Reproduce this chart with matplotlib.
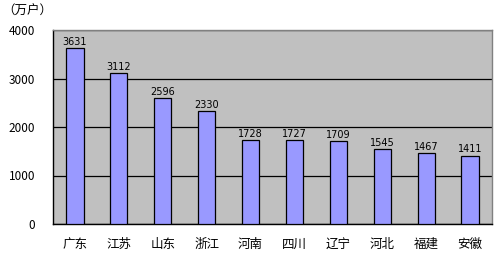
import matplotlib
matplotlib.use("Agg")
import matplotlib.pyplot as plt

plt.rcParams['font.family'] = ['Noto Sans CJK SC', 'DejaVu Sans']

provinces = ["广东", "江苏", "山东", "浙江", "河南", "四川", "辽宁", "河北", "福建", "安徽"]
values = [3631, 3112, 2596, 2330, 1728, 1727, 1709, 1545, 1467, 1411]
yticks = [0, 1000, 2000, 3000, 4000]
unit_label = "（万户）"

W, H = 500, 257
fig = plt.figure(figsize=(W / 100, H / 100), dpi=100)
ax = fig.add_axes([53 / W, 1 - 224 / H, (492 - 53) / W, (224 - 30) / H])
ax.set_facecolor("#C0C0C0")

x = list(range(len(provinces)))
bars = ax.bar(x, values, width=0.39, color="#9999FF", edgecolor="black", linewidth=0.9, zorder=3)
for xi, v in zip(x, values):
    ax.text(xi, v + 25, str(v), ha="center", va="bottom", fontsize=7, zorder=4,
            family=["DejaVu Sans"])

ax.set_xlim(-0.5, len(provinces) - 0.5)
ax.set_ylim(0, 4000)
ax.set_yticks(yticks)
ax.set_yticklabels([str(t) for t in yticks], fontsize=8.5)
ax.set_xticks(x)
ax.set_xticklabels(provinces, fontsize=9)
ax.tick_params(axis="both", length=0)
ax.tick_params(axis="y", pad=13)
ax.tick_params(axis="x", pad=10)
ax.yaxis.grid(True, color="black", linewidth=0.9, zorder=1)
ax.set_axisbelow(True)
for s in ["left", "bottom"]:
    ax.spines[s].set_color("black")
    ax.spines[s].set_linewidth(1.0)
for s in ["top", "right"]:
    ax.spines[s].set_color("#808080")
    ax.spines[s].set_linewidth(1.0)

fig.text(2 / W, 1 - 11 / H, unit_label, fontsize=9, ha="left", va="center")

fig.savefig("out.png", dpi=100)
